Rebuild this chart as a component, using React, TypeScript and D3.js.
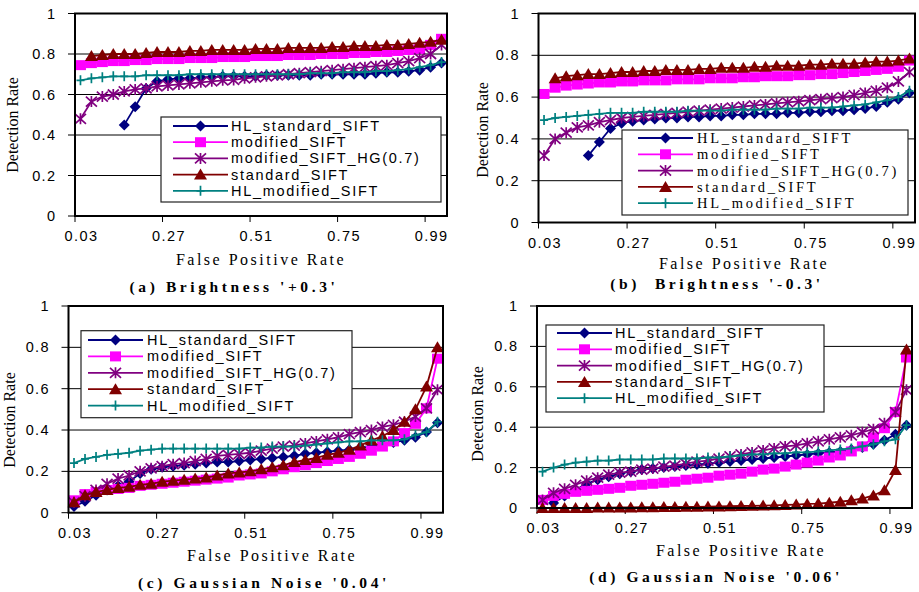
import React from "react";
import * as d3 from "d3";

// x categories (false positive rate) and labels
const categories = [0.03, 0.06, 0.09, 0.12, 0.15, 0.18, 0.21, 0.24, 0.27, 0.3, 0.33, 0.36, 0.39, 0.42, 0.45, 0.48, 0.51,
  0.54, 0.57, 0.6, 0.63, 0.66, 0.69, 0.72, 0.75, 0.78, 0.81, 0.84, 0.87, 0.9, 0.93, 0.96, 0.99, 1.02];
const xTickLabels = ["0.03", "0.27", "0.51", "0.75", "0.99"];
const yTicks = [0, 0.2, 0.4, 0.6, 0.8, 1];
const yTickLabels = ["0", "0.2", "0.4", "0.6", "0.8", "1"];

const seriesNames = ["HL_standard_SIFT", "modified_SIFT", "modified_SIFT_HG(0.7)", "standard_SIFT", "HL_modified_SIFT"];
const seriesColors = ["#000080", "#ff00ff", "#800080", "#800000", "#008080"];
const seriesMarkers = ["diamond", "square", "star", "triangle", "plus"];

// (a) Brightness '+0.3'
const aHLStd = [null, null, null, null, 0.45, 0.54, 0.63, 0.665, 0.675, 0.68, 0.68, 0.685, 0.685, 0.69, 0.69, 0.69, 0.69,
  0.695, 0.695, 0.695, 0.695, 0.695, 0.7, 0.7, 0.7, 0.7, 0.7, 0.705, 0.71, 0.71, 0.715, 0.72, 0.735, 0.755];
const aMod = [0.745, 0.755, 0.76, 0.765, 0.765, 0.77, 0.77, 0.775, 0.775, 0.775, 0.78, 0.78, 0.78, 0.785, 0.785, 0.785, 0.79,
  0.79, 0.79, 0.795, 0.795, 0.795, 0.8, 0.8, 0.8, 0.805, 0.805, 0.81, 0.81, 0.815, 0.82, 0.825, 0.845, 0.875];
const aHG = [0.48, 0.565, 0.59, 0.6, 0.615, 0.625, 0.63, 0.64, 0.645, 0.65, 0.655, 0.66, 0.665, 0.67, 0.672, 0.68, 0.685,
  0.69, 0.695, 0.7, 0.705, 0.71, 0.715, 0.72, 0.725, 0.73, 0.735, 0.74, 0.745, 0.755, 0.765, 0.78, 0.8, 0.845];
const aStd = [null, 0.79, 0.795, 0.8, 0.8, 0.8, 0.805, 0.81, 0.81, 0.81, 0.815, 0.815, 0.82, 0.82, 0.82, 0.82, 0.825,
  0.825, 0.825, 0.83, 0.83, 0.83, 0.83, 0.835, 0.835, 0.84, 0.84, 0.84, 0.845, 0.845, 0.85, 0.855, 0.86, 0.87];
const aHLMod = [0.67, 0.68, 0.685, 0.69, 0.69, 0.69, 0.695, 0.695, 0.695, 0.695, 0.7, 0.7, 0.7, 0.7, 0.7, 0.7, 0.7,
  0.7, 0.7, 0.7, 0.7, 0.705, 0.705, 0.705, 0.71, 0.71, 0.71, 0.715, 0.715, 0.72, 0.725, 0.735, 0.745, 0.76];

// (b) Brightness '-0.3'
const bHLStd = [null, null, null, null, 0.32, 0.385, 0.45, 0.475, 0.485, 0.49, 0.495, 0.5, 0.5, 0.505, 0.505, 0.51, 0.51,
  0.515, 0.515, 0.52, 0.52, 0.52, 0.525, 0.525, 0.53, 0.53, 0.535, 0.535, 0.54, 0.545, 0.555, 0.575, 0.59, 0.62];
const bMod = [0.615, 0.645, 0.655, 0.66, 0.665, 0.67, 0.67, 0.675, 0.675, 0.68, 0.68, 0.68, 0.685, 0.685, 0.685, 0.69, 0.69,
  0.69, 0.695, 0.695, 0.7, 0.7, 0.7, 0.705, 0.705, 0.71, 0.71, 0.715, 0.72, 0.725, 0.73, 0.735, 0.745, 0.775];
const bHG = [0.32, 0.4, 0.43, 0.455, 0.465, 0.48, 0.49, 0.5, 0.505, 0.51, 0.515, 0.52, 0.525, 0.53, 0.535, 0.54, 0.545,
  0.55, 0.555, 0.56, 0.565, 0.57, 0.575, 0.58, 0.585, 0.59, 0.595, 0.6, 0.61, 0.62, 0.63, 0.645, 0.675, 0.72];
const bStd = [null, 0.69, 0.7, 0.705, 0.71, 0.71, 0.715, 0.72, 0.72, 0.725, 0.725, 0.73, 0.73, 0.73, 0.735, 0.735, 0.74,
  0.74, 0.74, 0.745, 0.745, 0.75, 0.75, 0.75, 0.755, 0.755, 0.76, 0.76, 0.76, 0.765, 0.77, 0.77, 0.775, 0.785];
const bHLMod = [0.49, 0.5, 0.505, 0.51, 0.515, 0.52, 0.525, 0.525, 0.525, 0.53, 0.53, 0.53, 0.53, 0.535, 0.535, 0.535, 0.535,
  0.54, 0.54, 0.54, 0.54, 0.545, 0.545, 0.545, 0.55, 0.55, 0.55, 0.555, 0.56, 0.565, 0.575, 0.585, 0.6, 0.63];

// (c) Gaussian Noise '0.04'
const cHLStd = [0.03, 0.055, 0.085, 0.11, 0.13, 0.15, 0.19, 0.21, 0.22, 0.225, 0.23, 0.235, 0.24, 0.245, 0.245, 0.25, 0.255,
  0.26, 0.265, 0.27, 0.275, 0.285, 0.29, 0.295, 0.3, 0.305, 0.315, 0.32, 0.33, 0.34, 0.35, 0.365, 0.39, 0.435];
const cMod = [0.06, 0.09, 0.1, 0.11, 0.115, 0.12, 0.13, 0.135, 0.14, 0.145, 0.15, 0.155, 0.16, 0.165, 0.17, 0.18, 0.185,
  0.19, 0.2, 0.21, 0.22, 0.23, 0.24, 0.25, 0.26, 0.27, 0.285, 0.3, 0.32, 0.345, 0.385, 0.43, 0.505, 0.745];
const cHG = [0.05, 0.08, 0.11, 0.14, 0.165, 0.18, 0.2, 0.215, 0.225, 0.235, 0.24, 0.25, 0.26, 0.275, 0.28, 0.285, 0.29,
  0.3, 0.31, 0.32, 0.325, 0.335, 0.345, 0.355, 0.365, 0.38, 0.39, 0.4, 0.415, 0.425, 0.44, 0.465, 0.505, 0.595];
const cStd = [0.05, 0.085, 0.1, 0.11, 0.12, 0.125, 0.135, 0.14, 0.15, 0.155, 0.16, 0.165, 0.17, 0.18, 0.19, 0.195, 0.2,
  0.21, 0.22, 0.23, 0.245, 0.255, 0.265, 0.28, 0.29, 0.305, 0.325, 0.35, 0.37, 0.4, 0.44, 0.5, 0.61, 0.8];
const cHLMod = [0.24, 0.26, 0.27, 0.28, 0.285, 0.29, 0.3, 0.305, 0.31, 0.31, 0.31, 0.31, 0.31, 0.31, 0.31, 0.31, 0.315,
  0.315, 0.32, 0.32, 0.32, 0.325, 0.33, 0.335, 0.34, 0.345, 0.345, 0.35, 0.35, 0.35, 0.355, 0.375, 0.39, 0.44];

// (d) Gaussian Noise '0.06'
const dHLStd = [null, 0.025, 0.06, 0.09, 0.12, 0.14, 0.155, 0.17, 0.18, 0.19, 0.195, 0.2, 0.205, 0.21, 0.215, 0.22, 0.225,
  0.23, 0.235, 0.24, 0.245, 0.25, 0.255, 0.26, 0.265, 0.27, 0.275, 0.28, 0.29, 0.3, 0.315, 0.335, 0.365, 0.41];
const dMod = [0.04, 0.06, 0.07, 0.08, 0.085, 0.09, 0.095, 0.1, 0.11, 0.115, 0.12, 0.125, 0.13, 0.14, 0.145, 0.15, 0.16,
  0.165, 0.17, 0.18, 0.19, 0.195, 0.205, 0.215, 0.225, 0.235, 0.25, 0.26, 0.28, 0.305, 0.35, 0.395, 0.475, 0.745];
const dHG = [0.04, 0.075, 0.095, 0.115, 0.135, 0.15, 0.165, 0.175, 0.18, 0.19, 0.195, 0.205, 0.21, 0.22, 0.23, 0.235, 0.245,
  0.255, 0.265, 0.275, 0.285, 0.295, 0.305, 0.31, 0.32, 0.33, 0.34, 0.35, 0.36, 0.375, 0.39, 0.42, 0.475, 0.585];
const dStd = [0, 0, 0, 0, 0, 0.002, 0.002, 0.003, 0.003, 0.004, 0.004, 0.005, 0.005, 0.006, 0.006, 0.007, 0.008,
  0.009, 0.01, 0.011, 0.012, 0.013, 0.015, 0.017, 0.02, 0.022, 0.026, 0.031, 0.038, 0.047, 0.062, 0.088, 0.188, 0.785];
const dHLMod = [0.18, 0.2, 0.215, 0.225, 0.23, 0.235, 0.235, 0.24, 0.24, 0.24, 0.24, 0.245, 0.245, 0.245, 0.245, 0.25, 0.25,
  0.255, 0.26, 0.265, 0.265, 0.27, 0.27, 0.275, 0.275, 0.28, 0.285, 0.29, 0.295, 0.305, 0.315, 0.33, 0.34, 0.41];

const SANS = "Arial, 'Liberation Sans', sans-serif";
const SERIF = "'Times New Roman', 'Liberation Serif', serif";

const panels = [
  {
    caption: "(a) Brightness '+0.3'", data: [aHLStd, aMod, aHG, aStd, aHLMod],
    plot: { left: 75, right: 447, top: 13.5, bottom: 216 },
    legend: { x: 161, y: 117, w: 280, h: 85, row0: 126, step: 16.2, lx1: 173, lx2: 228, tx: 231, font: SANS, spacing: 2 },
    yTitle: [12, 125], xTitle: [261, 259], capPos: [234, 286],
  },
  {
    caption: "(b)  Brightness '-0.3'", data: [bHLStd, bMod, bHG, bStd, bHLMod],
    plot: { left: 538.5, right: 915, top: 13.5, bottom: 222.5 },
    legend: { x: 622, y: 130, w: 286, h: 85, row0: 138, step: 16.3, lx1: 638, lx2: 693, tx: 697, font: SERIF, spacing: 3 },
    yTitle: [482, 130], xTitle: [744, 263], capPos: [717, 283],
  },
  {
    caption: "(c) Gaussian Noise '0.04'", data: [cHLStd, cMod, cHG, cStd, cHLMod],
    plot: { left: 68.5, right: 443, top: 306, bottom: 512.7 },
    legend: { x: 81, y: 330.7, w: 271, h: 87, row0: 340, step: 16.4, lx1: 88, lx2: 143, tx: 147, font: SANS, spacing: 2 },
    yTitle: [9, 420], xTitle: [272, 555], capPos: [264, 582],
  },
  {
    caption: "(d) Gaussian Noise '0.06'", data: [dHLStd, dMod, dHG, dStd, dHLMod],
    plot: { left: 537, right: 912, top: 306, bottom: 508 },
    legend: { x: 546, y: 325, w: 278, h: 87, row0: 333, step: 16.3, lx1: 557, lx2: 612, tx: 615, font: SANS, spacing: 2 },
    yTitle: [477, 414], xTitle: [741, 550], capPos: [716, 576],
  },
];

function Marker({ type, x, y, color }) {
  const t = `translate(${x},${y})`;
  if (type === "diamond") return <path transform={t} d="M0,-5.5L5.5,0L0,5.5L-5.5,0Z" fill={color} />;
  if (type === "square") return <rect x={x - 5.5} y={y - 5} width={11} height={10} fill={color} />;
  if (type === "triangle") return <path transform={t} d="M0,-6L6.5,5L-6.5,5Z" fill={color} />;
  if (type === "star")
    return <path transform={t} d="M-5.5,-5L5.5,5M-5.5,5L5.5,-5M0,-5.5L0,5.5" stroke={color} strokeWidth={1.7} fill="none" />;
  return <path transform={t} d="M-4,0L4,0M0,-5L0,5" stroke={color} strokeWidth={1.7} fill="none" />;
}

function Panel({ p }) {
  const { left, right, top, bottom } = p.plot;
  const x = d3.scaleBand().domain(categories).range([left, right]);
  const bw = x.bandwidth();
  const cx = (i) => x(categories[i]) + bw / 2;
  const y = d3.scaleLinear().domain([0, 1]).range([bottom, top]);
  const line = d3.line().defined((d) => d != null).x((d, i) => cx(i)).y((d) => y(d));
  const lg = p.legend;

  return (
    <g>
      <rect x={left} y={top} width={right - left} height={bottom - top} fill="#fff" />
      {yTicks.map((t) => (
        <line key={t} x1={left - 7} x2={t === 0 || t === 1 ? left : right} y1={y(t)} y2={y(t)} stroke="#000" strokeWidth={1} />
      ))}
      {xTickLabels.map((lab) => {
        const c = categories.find((v) => v.toFixed(2) === lab);
        return <line key={lab} x1={x(c)} x2={x(c)} y1={bottom} y2={bottom + 6} stroke="#000" strokeWidth={1} />;
      })}
      {p.data.map((vals, s) => (
        <g key={s}>
          <path d={line(vals)} fill="none" stroke={seriesColors[s]} strokeWidth={1.8} />
          {vals.map((v, i) => (v == null ? null : <Marker key={i} type={seriesMarkers[s]} x={cx(i)} y={y(v)} color={seriesColors[s]} />))}
        </g>
      ))}
      <rect x={left} y={top} width={right - left} height={bottom - top} fill="none" stroke="#000" strokeWidth={2} />

      {yTicks.map((t, i) => (
        <text key={t} x={left - 18.5} y={y(t)} textAnchor="end" dominantBaseline="central"
          fontFamily={SANS} fontSize={14.5} letterSpacing={1.4}>{yTickLabels[i]}</text>
      ))}
      {xTickLabels.map((lab) => {
        const c = categories.find((v) => v.toFixed(2) === lab);
        return (
          <text key={lab} x={x(c) + bw / 2 + 1} y={bottom + 20} textAnchor="middle" dominantBaseline="central"
            fontFamily={SANS} fontSize={14.5} letterSpacing={1.4}>{lab}</text>
        );
      })}
      <text x={p.xTitle[0]} y={p.xTitle[1]} textAnchor="middle" dominantBaseline="central"
        fontFamily={SERIF} fontSize={16} letterSpacing={2.5}>False Positive Rate</text>
      <text transform={`translate(${p.yTitle[0]},${p.yTitle[1]}) rotate(-90)`} textAnchor="middle" dominantBaseline="central"
        fontFamily={SERIF} fontSize={16}>Detection Rate</text>
      <text x={p.capPos[0]} y={p.capPos[1]} textAnchor="middle" dominantBaseline="central" style={{ whiteSpace: "pre" }}
        fontFamily={SERIF} fontSize={15.5} fontWeight="bold" letterSpacing={3.6}>{p.caption}</text>

      <rect x={lg.x} y={lg.y} width={lg.w} height={lg.h} fill="#fff" stroke="#222" strokeWidth={1.2} />
      {seriesNames.map((name, s) => {
        const ry = lg.row0 + s * lg.step;
        return (
          <g key={name}>
            <line x1={lg.lx1} x2={lg.lx2} y1={ry} y2={ry} stroke={seriesColors[s]} strokeWidth={1.8} />
            <Marker type={seriesMarkers[s]} x={(lg.lx1 + lg.lx2) / 2} y={ry} color={seriesColors[s]} />
            <text x={lg.tx} y={ry} dominantBaseline="central" fontFamily={lg.font} fontSize={14.5}
              letterSpacing={lg.spacing - 0.3}>{name}</text>
          </g>
        );
      })}
    </g>
  );
}

export default function App() {
  return (
    <svg width={919} height={592} style={{ position: "absolute", left: 0, top: 0, background: "#fff" }}>
      {panels.map((p) => (
        <Panel key={p.caption} p={p} />
      ))}
    </svg>
  );
}
